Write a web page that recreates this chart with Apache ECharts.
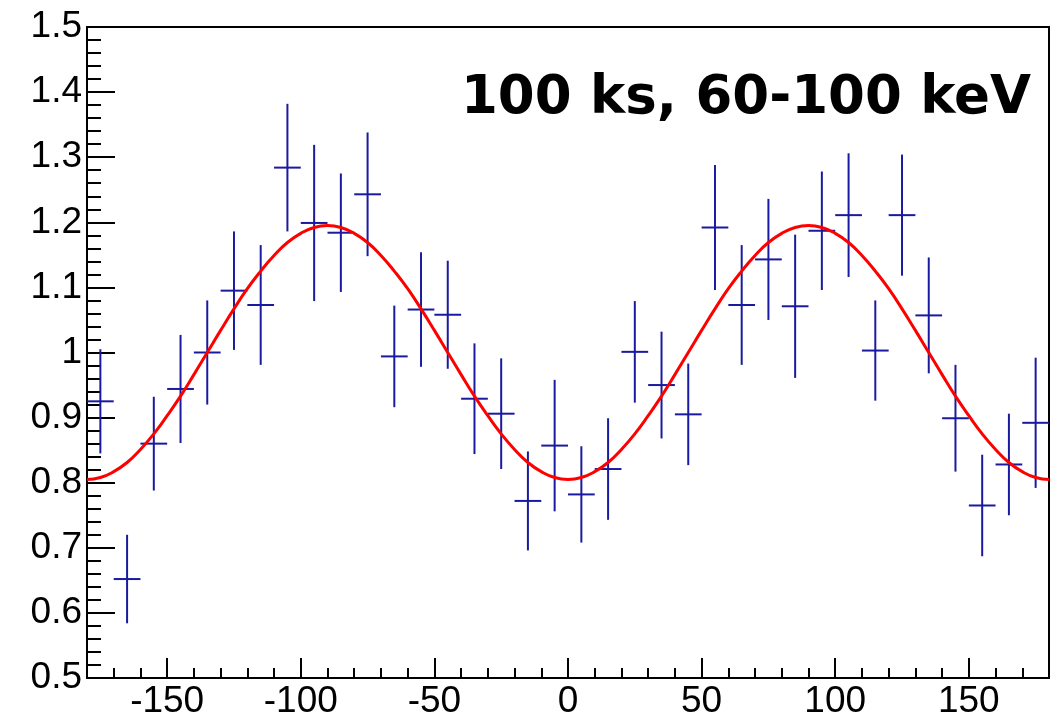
<!DOCTYPE html>
<html>
<head>
<meta charset="utf-8">
<script src="https://cdn.jsdelivr.net/npm/echarts@6/dist/echarts.min.js"></script>
<style>
html,body{margin:0;padding:0;background:#fff;}
#chart{width:1063px;height:720px;}
</style>
</head>
<body>
<div id="chart"></div>
<script>
// Data points (bin centres, values, errors)
var binCenters = [-175,-165,-155,-145,-135,-125,-115,-105,-95,-85,-75,-65,-55,-45,-35,-25,-15,-5,5,15,25,35,45,55,65,75,85,95,105,115,125,135,145,155,165,175];
var values = [0.925,0.652,0.860,0.944,1.000,1.095,1.073,1.284,1.199,1.184,1.243,0.994,1.066,1.058,0.929,0.906,0.772,0.857,0.782,0.821,1.001,0.950,0.905,1.192,1.073,1.143,1.071,1.187,1.211,1.003,1.211,1.057,0.899,0.765,0.828,0.892];
var errors = [0.080,0.068,0.072,0.083,0.080,0.091,0.092,0.098,0.120,0.091,0.095,0.078,0.088,0.083,0.085,0.085,0.076,0.101,0.074,0.078,0.078,0.082,0.078,0.096,0.092,0.093,0.110,0.091,0.095,0.077,0.093,0.089,0.082,0.078,0.078,0.100];
var binHalfWidth = 5;

// Fit curve (every 5 degrees)
var fitX = [-180,-175,-170,-165,-160,-155,-150,-145,-140,-135,-130,-125,-120,-115,-110,-105,-100,-95,-90,-85,-80,-75,-70,-65,-60,-55,-50,-45,-40,-35,-30,-25,-20,-15,-10,-5,0,5,10,15,20,25,30,35,40,45,50,55,60,65,70,75,80,85,90,95,100,105,110,115,120,125,130,135,140,145,150,155,160,165,170,175,180];
var fitY = [0.805,0.808,0.817,0.831,0.851,0.875,0.903,0.933,0.966,1.000,1.034,1.067,1.098,1.125,1.149,1.169,1.183,1.192,1.195,1.192,1.183,1.169,1.149,1.125,1.098,1.067,1.034,1.000,0.966,0.933,0.903,0.875,0.851,0.831,0.817,0.808,0.805,0.808,0.817,0.831,0.851,0.875,0.903,0.933,0.966,1.000,1.034,1.067,1.098,1.125,1.149,1.169,1.183,1.192,1.195,1.192,1.183,1.169,1.149,1.125,1.098,1.067,1.034,1.000,0.966,0.933,0.903,0.875,0.851,0.831,0.817,0.808,0.805];

// Axis ticks
var xMajorTicks = [-150,-100,-50,0,50,100,150];
var xMinorTicks = [-170,-160,-150,-140,-130,-120,-110,-100,-90,-80,-70,-60,-50,-40,-30,-20,-10,0,10,20,30,40,50,60,70,80,90,100,110,120,130,140,150,160,170];
var yMajorTicks = [0.5,0.6,0.7,0.8,0.9,1.0,1.1,1.2,1.3,1.4,1.5];
var yMinorTicks = [0.52,0.54,0.56,0.58,0.62,0.64,0.66,0.68,0.72,0.74,0.76,0.78,0.82,0.84,0.86,0.88,0.92,0.94,0.96,0.98,1.02,1.04,1.06,1.08,1.12,1.14,1.16,1.18,1.22,1.24,1.26,1.28,1.32,1.34,1.36,1.38,1.42,1.44,1.46,1.48];
var titleText = '100 ks, 60-100 keV';

var pts = binCenters.map(function(x,i){ return [x, values[i], errors[i]]; });
var fitData = fitX.map(function(x,i){ return [x, fitY[i]]; });

var labelFontFamily = '"Liberation Sans", Arial, sans-serif';
var labelFontSize = 37;
function fmt(v){ return String(Number(v.toFixed(2))); }

var chart = echarts.init(document.getElementById('chart'), null, {renderer:'canvas'});
chart.setOption({
  animation:false,
  backgroundColor:'#fff',
  grid:{left:87, right:14, top:27, bottom:40, show:true, borderColor:'#000', borderWidth:2, backgroundColor:'transparent'},
  xAxis:[{
    type:'value', min:-180, max:180, position:'bottom',
    axisLine:{show:true, onZero:false, lineStyle:{color:'#000', width:2}},
    axisTick:{show:true, inside:true, length:10, lineStyle:{color:'#000', width:2}, customValues:xMinorTicks},
    axisLabel:{show:true, margin:5, customValues:xMajorTicks, formatter:function(v){return fmt(v);}, fontFamily:labelFontFamily, fontSize:labelFontSize, color:'#000'},
    splitLine:{show:false}
  },{
    type:'value', min:-180, max:180, position:'bottom', gridIndex:0,
    axisLine:{show:false, onZero:false},
    axisTick:{show:true, inside:true, length:20, lineStyle:{color:'#000', width:2}, customValues:xMajorTicks},
    axisLabel:{show:false},
    splitLine:{show:false}
  }],
  yAxis:[{
    type:'value', min:0.5, max:1.5, position:'left',
    axisLine:{show:true, onZero:false, lineStyle:{color:'#000', width:2}},
    axisTick:{show:true, inside:true, length:14, lineStyle:{color:'#000', width:2}, customValues:yMinorTicks},
    axisLabel:{show:true, margin:5, customValues:yMajorTicks, formatter:function(v){return fmt(v);}, fontFamily:labelFontFamily, fontSize:labelFontSize, color:'#000'},
    splitLine:{show:false}
  },{
    type:'value', min:0.5, max:1.5, position:'left', gridIndex:0,
    axisLine:{show:false, onZero:false},
    axisTick:{show:true, inside:true, length:28, lineStyle:{color:'#000', width:2}, customValues:yMajorTicks},
    axisLabel:{show:false},
    splitLine:{show:false}
  }],
  series:[{
    type:'custom',
    xAxisIndex:0, yAxisIndex:0,
    data:pts,
    clip:true,
    renderItem:function(params, api){
      var x = api.value(0), y = api.value(1), e = api.value(2);
      var c = api.coord([x, y]);
      var top = api.coord([x, y + e]);
      var bot = api.coord([x, y - e]);
      var l = api.coord([x - binHalfWidth, y]);
      var r = api.coord([x + binHalfWidth, y]);
      var st = {stroke:'#1a1aa0', lineWidth:2};
      return {type:'group', children:[
        {type:'line', shape:{x1:c[0], y1:top[1], x2:c[0], y2:bot[1]}, style:st},
        {type:'line', shape:{x1:l[0], y1:c[1], x2:r[0], y2:c[1]}, style:st}
      ]};
    },
    z:2
  },{
    type:'line',
    xAxisIndex:0, yAxisIndex:0,
    data:fitData,
    smooth:true,
    showSymbol:false,
    lineStyle:{color:'#ff0000', width:3},
    z:3
  }],
  graphic:[{
    type:'text', right:32, top:73,
    style:{text:titleText, fontFamily:'"DejaVu Sans", sans-serif', fontWeight:'bold', fontSize:53, fill:'#000'}
  }]
});
</script>
</body>
</html>
